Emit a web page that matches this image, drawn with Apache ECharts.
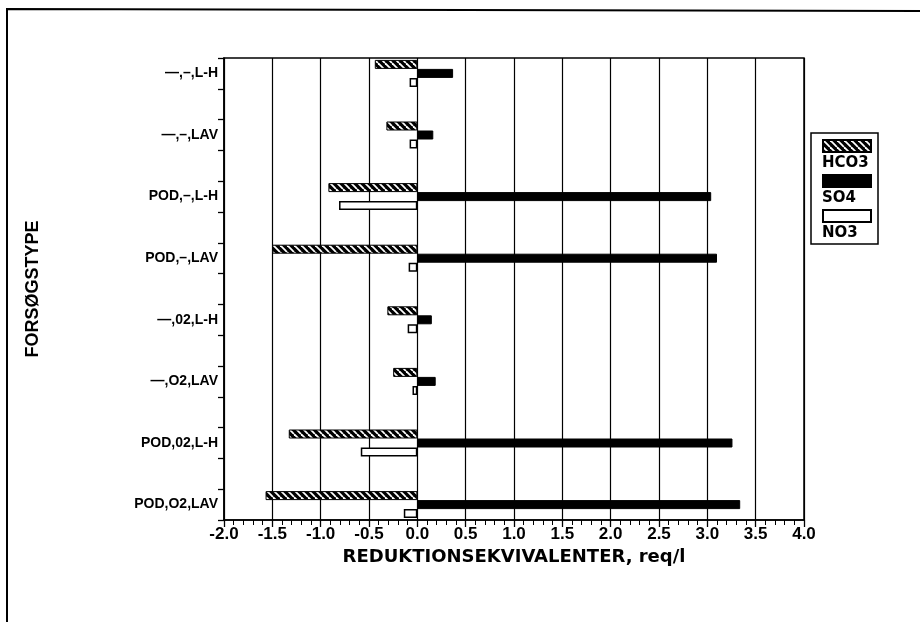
<!DOCTYPE html>
<html>
<head>
<meta charset="utf-8">
<script src="https://cdn.jsdelivr.net/npm/echarts@6/dist/echarts.min.js"></script>
<style>
  html, body { margin: 0; padding: 0; background: #fff; }
  #chart { width: 920px; height: 622px; }
</style>
</head>
<body>
<div id="chart"></div>
<script>
// Test types, top to bottom
const categories = ['—,–,L-H', '—,–,LAV', 'POD,–,L-H', 'POD,–,LAV', '—,02,L-H', '—,O2,LAV', 'POD,02,L-H', 'POD,O2,LAV'];
// Reduction equivalents per test type (req/l)
const hco3 = [-0.44, -0.32, -0.92, -1.50, -0.31, -0.25, -1.33, -1.57];
const so4  = [0.37, 0.165, 3.04, 3.10, 0.15, 0.19, 3.26, 3.34];
const no3  = [-0.08, -0.08, -0.81, -0.09, -0.10, -0.05, -0.585, -0.14];
const seriesNames = ['HCO3', 'SO4', 'NO3'];
// x-axis range and step
const xMin = -2.0, xMax = 4.0, xStep = 0.5;

// each test type sits in its own slot, with an empty slot between neighbours
const slotNames = [];
categories.forEach((c, i) => {
  slotNames.push(c);
  if (i < categories.length - 1) slotNames.push('gap' + i);
});
const toSlots = vals => {
  const out = [];
  vals.forEach((v, i) => {
    out.push(v);
    if (i < vals.length - 1) out.push(null);
  });
  return out;
};

// diagonal hatch: black with white slashes
function hatch() {
  const s = 7;
  const c = document.createElement('canvas');
  c.width = s; c.height = s;
  const g = c.getContext('2d');
  g.fillStyle = '#000';
  g.fillRect(0, 0, s, s);
  g.strokeStyle = '#fff';
  g.lineWidth = 1.8;
  for (const k of [-s, 0, s]) {
    g.beginPath();
    g.moveTo(k, 0);
    g.lineTo(k + s, s);
    g.stroke();
  }
  return c;
}

const FONT = '"Liberation Sans", Arial, sans-serif';
const WIDE = '"DejaVu Sans", sans-serif';
const chart = echarts.init(document.getElementById('chart'), null, { renderer: 'canvas' });

const barBase = { type: 'bar', barWidth: 9, barGap: '0%', animation: false };

chart.setOption({
  backgroundColor: '#fff',
  animation: false,
  grid: {
    left: 224, right: 116, top: 58, bottom: 102,
    show: true, borderColor: '#000', borderWidth: 1.5, backgroundColor: 'transparent'
  },
  legend: {
    orient: 'vertical',
    left: 822, top: 139, padding: 0,
    itemWidth: 48, itemHeight: 12, itemGap: 21,
    icon: 'rect',
    selectedMode: false,
    formatter: () => '',
    data: seriesNames
  },
  xAxis: {
    type: 'value',
    min: xMin, max: xMax, interval: xStep,
    axisLine: { show: true, onZero: false, lineStyle: { color: '#000', width: 1.5 } },
    axisTick: { show: true, inside: false, length: 7, lineStyle: { color: '#000', width: 1.3 } },
    minorTick: { show: true, splitNumber: 5, length: 5, lineStyle: { color: '#000', width: 1 } },
    splitLine: { show: true, lineStyle: { color: '#000', width: 1.2 } },
    axisLabel: {
      color: '#000', fontFamily: FONT, fontWeight: 'bold', fontSize: 17, margin: 6,
      formatter: v => v.toFixed(1)
    },
    name: 'REDUKTIONSEKVIVALENTER, req/l',
    nameLocation: 'middle', nameGap: 23,
    nameTextStyle: { color: '#000', fontFamily: WIDE, fontWeight: 'bold', fontSize: 18 }
  },
  yAxis: {
    type: 'category',
    inverse: true,
    data: slotNames,
    boundaryGap: true,
    axisLine: { show: true, onZero: false, lineStyle: { color: '#000', width: 1.5 } },
    axisTick: { show: true, inside: false, length: 6, interval: 0, lineStyle: { color: '#000', width: 1.3 } },
    axisLabel: {
      interval: 0, color: '#000', fontFamily: FONT, fontWeight: 'bold', fontSize: 14, margin: 6,
      formatter: v => (v.startsWith('gap') ? '' : v)
    },
    name: 'FORSØGSTYPE',
    nameLocation: 'middle', nameRotate: 90, nameGap: 182,
    nameTextStyle: { color: '#000', fontFamily: FONT, fontWeight: 'bold', fontSize: 18 }
  },
  series: [
    Object.assign({}, barBase, {
      name: seriesNames[0], data: toSlots(hco3),
      itemStyle: { color: { image: hatch(), repeat: 'repeat' }, borderColor: '#000', borderWidth: 1 }
    }),
    Object.assign({}, barBase, {
      name: seriesNames[1], data: toSlots(so4),
      itemStyle: { color: '#000', borderColor: '#000', borderWidth: 1 }
    }),
    Object.assign({}, barBase, {
      name: seriesNames[2], data: toSlots(no3),
      itemStyle: { color: '#fff', borderColor: '#000', borderWidth: 1.5 }
    })
  ],
  graphic: [
    // page frame (left and top edges)
    { type: 'polyline', silent: true, shape: { points: [[7, 622], [7, 9], [920, 11]] },
      style: { stroke: '#000', lineWidth: 2, fill: null } },
    // legend box
    { type: 'rect', silent: true, shape: { x: 811, y: 133, width: 67, height: 111 },
      style: { stroke: '#000', lineWidth: 1.5, fill: null } },
    { type: 'text', silent: true, left: 822, top: 156,
      style: { text: seriesNames[0], font: 'bold 15px ' + WIDE, fill: '#000' } },
    { type: 'text', silent: true, left: 822, top: 191,
      style: { text: seriesNames[1], font: 'bold 15px ' + WIDE, fill: '#000' } },
    { type: 'text', silent: true, left: 822, top: 226,
      style: { text: seriesNames[2], font: 'bold 15px ' + WIDE, fill: '#000' } }
  ]
});
</script>
</body>
</html>
